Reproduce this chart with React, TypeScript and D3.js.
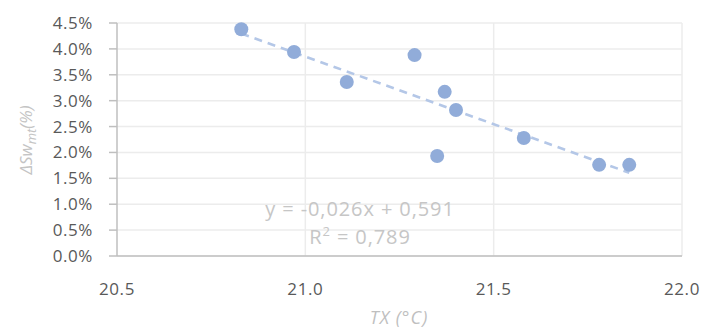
import React from 'react';
import * as d3 from 'd3';

const TX = [20.83, 20.97, 21.11, 21.29, 21.37, 21.40, 21.35, 21.58, 21.78, 21.86];
const DSW = [4.38, 3.94, 3.36, 3.88, 3.17, 2.82, 1.93, 2.28, 1.76, 1.76];
const X_TICKS = [20.5, 21.0, 21.5, 22.0];
const Y_TICKS = [0, 0.5, 1, 1.5, 2, 2.5, 3, 3.5, 4, 4.5];
const EQUATION = 'y = -0,026x + 0,591';
const R2 = '0,789';

const FONT = '"Open Sans", sans-serif';

export default function App() {
    const margin = { top: 23, right: 23, bottom: 79, left: 117 };
    const W = 705, H = 335;
    const x = d3.scaleLinear().domain([20.5, 22.0]).range([margin.left, W - margin.right]);
    const y = d3.scaleLinear().domain([0, 4.5]).range([H - margin.bottom, margin.top]);

    // least squares trendline from the points
    const mx = d3.mean(TX)!, my = d3.mean(DSW)!;
    let sxy = 0, sxx = 0;
    TX.forEach((t, i) => { sxy += (t - mx) * (DSW[i] - my); sxx += (t - mx) * (t - mx); });
    const slope = sxy / sxx;
    const icpt = my - slope * mx;
    const x0 = d3.min(TX)!, x1 = d3.max(TX)!;

    const y0 = y(0);

    return (
        <svg width={W} height={H} style={{ position: 'absolute', left: 0, top: 0 }}>
            <rect width={W} height={H} fill="#fff" />
            {Y_TICKS.map(t => (
                <line key={'gy' + t} x1={x.range()[0]} x2={x.range()[1]} y1={y(t)} y2={y(t)} stroke="#ececec" strokeWidth={1.5} />
            ))}
            {X_TICKS.slice(1).map(t => (
                <line key={'gx' + t} x1={x(t)} x2={x(t)} y1={y.range()[1]} y2={y0} stroke="#ececec" strokeWidth={1.5} />
            ))}
            {/* axes */}
            <line x1={x.range()[0]} x2={x.range()[0]} y1={y.range()[1]} y2={y0} stroke="#bfbfbf" strokeWidth={1.5} />
            <line x1={x.range()[0]} x2={x.range()[1]} y1={y0} y2={y0} stroke="#bfbfbf" strokeWidth={1.5} />
            {Y_TICKS.map(t => (
                <g key={'ty' + t}>
                    <line x1={x.range()[0] - 8} x2={x.range()[0]} y1={y(t)} y2={y(t)} stroke="#bfbfbf" strokeWidth={1.5} />
                    <text x={93} y={y(t)} dy="0.35em" textAnchor="end" fontFamily={FONT} fontSize={17} fill="#595959" letterSpacing={0.6}>
                        {t.toFixed(1) + '%'}
                    </text>
                </g>
            ))}
            {X_TICKS.map(t => (
                <text key={'tx' + t} x={x(t)} y={289} dy="0.35em" textAnchor="middle" fontFamily={FONT} fontSize={17} fill="#595959" letterSpacing={0.6}>
                    {t.toFixed(1)}
                </text>
            ))}
            {/* trendline */}
            <line x1={x(x0)} y1={y(slope * x0 + icpt)} x2={x(x1)} y2={y(slope * x1 + icpt)}
                stroke="#b4c7e7" strokeWidth={2.6} strokeDasharray="8,6" />
            {TX.map((t, i) => (
                <circle key={i} cx={x(t)} cy={y(DSW[i])} r={7} fill="#91acd9" />
            ))}
            <text x={360} y={209} dy="0.35em" textAnchor="middle" fontFamily={FONT} fontSize={20} fill="#c6c6c6" letterSpacing={0.9}>{EQUATION}</text>
            <text x={360} y={237} dy="0.35em" textAnchor="middle" fontFamily={FONT} fontSize={20} fill="#c6c6c6" letterSpacing={0.9}>
                R<tspan dy="-8" fontSize={13}>2</tspan><tspan dy="8"> = {R2}</tspan>
            </text>
            <text x={399} y={318} dy="0.35em" textAnchor="middle" fontFamily={FONT} fontSize={18} fontStyle="italic" fill="#bfbfbf" letterSpacing={1}>TX (°C)</text>
            <text transform={`translate(26,140) rotate(-90)`} textAnchor="middle" dy="0.35em" fontFamily={FONT} fontSize={17} fontStyle="italic" fill="#c4c4c4">
                ΔSw<tspan fontSize={13} dy="4">mt</tspan><tspan dy="-4">(%)</tspan>
            </text>
        </svg>
    );
}
